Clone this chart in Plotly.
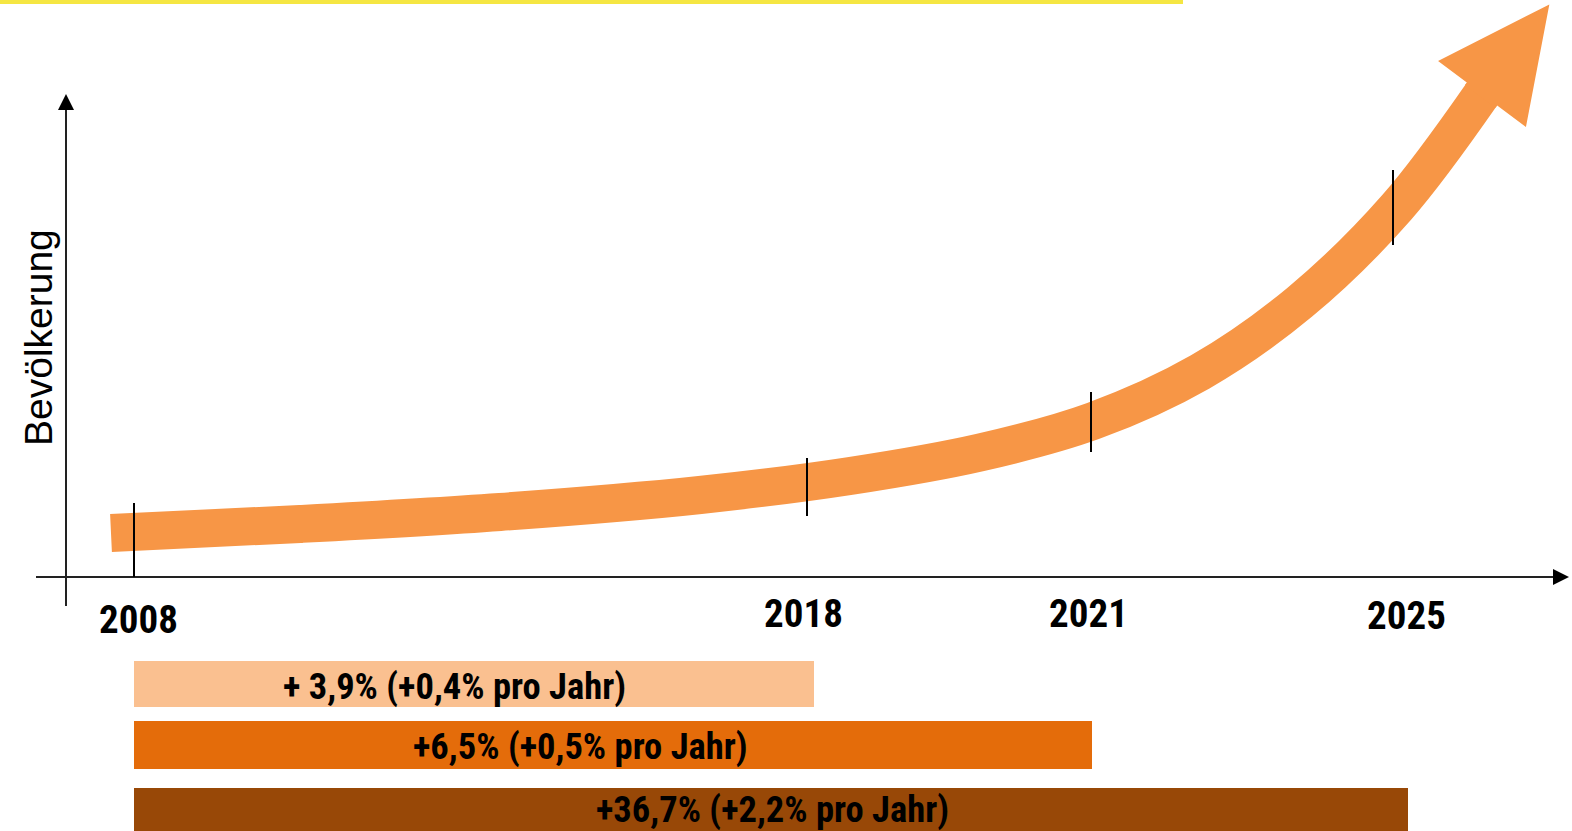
import numpy as np
import plotly.graph_objects as go

# ---------------- data ----------------
years = ["2008", "2018", "2021", "2025"]
growth_text = ["+ 3,9% (+0,4% pro Jahr)", "+6,5% (+0,5% pro Jahr)", "+36,7% (+2,2% pro Jahr)"]
growth_from = ["2008", "2008", "2008"]
growth_to = ["2018", "2021", "2025"]
# schematic population trend (diagram units)
trend_x = [111, 300, 500, 700, 850, 980, 1093, 1200, 1300, 1397, 1482]
trend_y = [533, 524, 512, 495, 476, 452.5, 421, 372, 302, 207, 94]
y_title = "Bevölkerung"

# ---------------- layout helpers ----------------
W, H = 1572, 831
tick_x = {"2008": 134, "2018": 807, "2021": 1091, "2025": 1393}
tick_span = {"2008": (503, 577), "2018": (458, 516), "2021": (392, 452), "2025": (170, 245)}
label_x = {"2008": 138, "2018": 803, "2021": 1088, "2025": 1406}
label_y = {"2008": 620, "2018": 614, "2021": 614, "2025": 616}
bar_end = {"2018": 814, "2021": 1092, "2025": 1408}
bar_rows = [(661, 707), (721, 769), (788, 836)]
bar_colors = ["#FAC090", "#E46C0A", "#984807"]
bar_text_x = [454, 580, 772]
bar_text_y = [686, 746, 809]

NARROW = "Roboto Condensed, DejaVu Sans Condensed, sans-serif"
ORANGE = "#F79646"

fig = go.Figure()

fig.add_trace(go.Bar(
    orientation="h",
    y=[(a + b) / 2 for a, b in bar_rows],
    width=[b - a for a, b in bar_rows],
    base=[tick_x[f] for f in growth_from],
    x=[bar_end[t] - tick_x[f] for f, t in zip(growth_from, growth_to)],
    marker=dict(color=bar_colors, line=dict(width=0)),
    hoverinfo="skip", showlegend=False,
))

fig.add_trace(go.Scatter(
    x=trend_x, y=trend_y, mode="lines",
    line=dict(color=ORANGE, width=38, shape="spline", smoothing=1.0),
    hoverinfo="skip", showlegend=False,
))

ex, ey = trend_x[-1], trend_y[-1]
px_, py_ = trend_x[-2], trend_y[-2]
d = np.array([ex - px_, ey - py_], float)
d /= np.linalg.norm(d)
n = np.array([-d[1], d[0]])
e = np.array([ex, ey], float)
pts = [e - 3 * d + 19 * n, e + 19 * n, e + 55 * n, e + 112 * d,
       e - 55 * n, e - 19 * n, e - 3 * d - 19 * n]
fig.add_trace(go.Scatter(
    x=[p[0] for p in pts], y=[p[1] for p in pts], mode="lines",
    fill="toself", fillcolor=ORANGE, line=dict(width=0, color=ORANGE),
    hoverinfo="skip", showlegend=False,
))

shapes = []
shapes.append(dict(type="rect", x0=0, x1=1183, y0=0, y1=4, fillcolor="#F5E642",
                   line=dict(width=0), layer="below"))
shapes.append(dict(type="line", x0=66, x1=66, y0=606, y1=108, line=dict(color="#222", width=2)))
shapes.append(dict(type="path", path="M 66 94 L 58 110 L 74 110 Z", fillcolor="#000", line=dict(width=0)))
shapes.append(dict(type="line", x0=36, x1=1556, y0=577, y1=577, line=dict(color="#222", width=2)))
shapes.append(dict(type="path", path="M 1569 577 L 1553 569 L 1553 585 Z", fillcolor="#000", line=dict(width=0)))
for yr in years:
    y0, y1 = tick_span[yr]
    shapes.append(dict(type="line", x0=tick_x[yr], x1=tick_x[yr], y0=y0, y1=y1,
                       line=dict(color="#000", width=2)))

annotations = []
for yr in years:
    annotations.append(dict(x=label_x[yr], y=label_y[yr], text=yr, showarrow=False,
                            xanchor="center", yanchor="middle",
                            font=dict(family=NARROW, size=39, color="#000", weight=700)))
for txt, tx, ty in zip(growth_text, bar_text_x, bar_text_y):
    annotations.append(dict(x=tx, y=ty, text=txt, showarrow=False,
                            xanchor="center", yanchor="middle",
                            font=dict(family=NARROW, size=36.5, color="#000", weight=700)))
annotations.append(dict(x=38, y=338, text=y_title, showarrow=False, textangle=-90,
                        xanchor="center", yanchor="middle",
                        font=dict(family="Liberation Sans, Arial, sans-serif", size=39, color="#000")))

fig.update_layout(
    width=W, height=H, margin=dict(l=0, r=0, t=0, b=0),
    paper_bgcolor="white", plot_bgcolor="white",
    xaxis=dict(range=[0, W], visible=False, fixedrange=True),
    yaxis=dict(range=[H, 0], visible=False, fixedrange=True),
    shapes=shapes, annotations=annotations, bargap=0,
)

fig.write_html("out.html", config={"displayModeBar": False},
               post_script="document.body.style.margin='0';")
